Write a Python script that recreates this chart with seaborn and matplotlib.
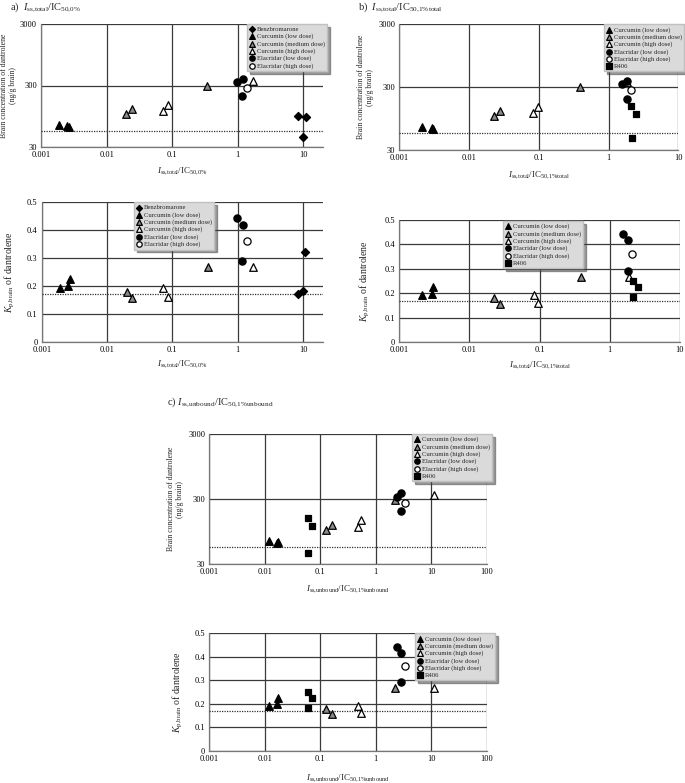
import matplotlib
matplotlib.use("Agg")
import matplotlib.pyplot as plt
import seaborn as sns
import pandas as pd

# ---------------- data ----------------
# Panel a: I_ss,total / IC50,0%
a_benz_x = [8.4, 9.95, 10.9]
a_benz_conc = [94, 43, 92]
a_benz_kp = [0.170, 0.181, 0.321]
a_cur_low_x = [0.0019, 0.0025, 0.0027]
a_cur_low_conc = [69, 66, 64]
a_cur_low_kp = [0.190, 0.199, 0.224]
a_cur_med_x = [0.020, 0.0245, 0.345]
a_cur_med_conc = [102, 124, 300]
a_cur_med_kp = [0.179, 0.157, 0.268]
a_cur_high_x = [0.072, 0.086, 1.70]
a_cur_high_conc = [116, 144, 358]
a_cur_high_kp = [0.193, 0.160, 0.268]
a_ela_low_x = [0.99, 1.20, 1.18]
a_ela_low_conc = [336, 380, 199]
a_ela_low_kp = [0.443, 0.417, 0.289]
a_ela_high_x = [1.37]
a_ela_high_conc = [271]
a_ela_high_kp = [0.361]

# Panel b: I_ss,total / IC50,1%total
b_cur_low_x = [0.0021, 0.0029, 0.0030]
b_cur_low_conc = [69.5, 66, 64]
b_cur_low_kp = [0.193, 0.199, 0.225]
b_cur_med_x = [0.0225, 0.0275, 0.39]
b_cur_med_conc = [104, 124, 298]
b_cur_med_kp = [0.180, 0.158, 0.268]
b_cur_high_x = [0.082, 0.096, 1.85]
b_cur_high_conc = [116, 144, 358]
b_cur_high_kp = [0.193, 0.162, 0.268]
b_ela_low_x = [1.55, 1.82, 1.82]
b_ela_low_conc = [337, 378, 197]
b_ela_low_kp = [0.443, 0.417, 0.292]
b_ela_high_x = [2.1]
b_ela_high_conc = [271]
b_ela_high_kp = [0.361]
b_r406_x = [2.13, 2.48, 2.16]
b_r406_conc = [150, 113, 46]
b_r406_kp = [0.252, 0.226, 0.185]

# Panel c: I_ss,unbound / IC50,1%unbound
c_cur_low_x = [0.012, 0.0163, 0.017]
c_cur_low_conc = [68, 64.5, 66]
c_cur_low_kp = [0.191, 0.198, 0.224]
c_cur_med_x = [0.128, 0.16, 2.25]
c_cur_med_conc = [100, 122, 291]
c_cur_med_kp = [0.178, 0.156, 0.266]
c_cur_high_x = [0.47, 0.55, 11.0]
c_cur_high_conc = [112, 142, 352]
c_cur_high_kp = [0.193, 0.160, 0.269]
c_ela_low_x = [2.45, 2.9, 2.9]
c_ela_low_conc = [327, 378, 195]
c_ela_low_kp = [0.442, 0.418, 0.292]
c_ela_high_x = [3.3]
c_ela_high_conc = [265]
c_ela_high_kp = [0.361]
c_r406_x = [0.059, 0.070, 0.060]
c_r406_conc = [156, 116, 44]
c_r406_kp = [0.252, 0.224, 0.184]

conc_ticks = [30, 300, 3000]
kp_ticks = [0, 0.1, 0.2, 0.3, 0.4, 0.5]
lloq_conc = 55
ref_kp = 0.17

labels = {
    "benz": "Benzbromarone",
    "cur_low": "Curcumin (low dose)",
    "cur_med": "Curcumin (medium dose)",
    "cur_high": "Curcumin (high dose)",
    "ela_low": "Elacridar (low dose)",
    "ela_high": "Elacridar (high dose)",
    "r406": "R406",
}

# ---------------- style ----------------
sns.set_theme(style="white")
plt.rcParams["font.family"] = ["Liberation Serif", "DejaVu Serif"]
plt.rcParams["mathtext.fontset"] = "custom"
plt.rcParams["mathtext.rm"] = "Liberation Serif"
plt.rcParams["mathtext.it"] = "Liberation Serif:italic"
plt.rcParams["mathtext.bf"] = "Liberation Serif:bold"

styles = {
    "benz": dict(marker="D", fc="black", s=17),
    "cur_low": dict(marker="^", fc="black", s=30),
    "cur_med": dict(marker="^", fc="#8a8a8a", s=30),
    "cur_high": dict(marker="^", fc="white", s=30),
    "ela_low": dict(marker="o", fc="black", s=27),
    "ela_high": dict(marker="o", fc="white", s=27),
    "r406": dict(marker="s", fc="black", s=25),
}

W, H = 685, 783
fig = plt.figure(figsize=(W / 100, H / 100), dpi=100)


def add_ax(l, r, t, b):
    return fig.add_axes([l / W, 1 - b / H, (r - l) / W, (b - t) / H])


def draw(ax, series, kind, xmax, xticks, xlabel, ylab_x, xlab_y, leg_xy):
    for key, xs, ys in series:
        df = pd.DataFrame({"x": xs, "y": ys})
        st = styles[key]
        sns.scatterplot(data=df, x="x", y="y", ax=ax, marker=st["marker"],
                        color=st["fc"], edgecolor="black", linewidth=0.9,
                        s=st["s"], label=labels[key], zorder=5)
    ax.set_xscale("log")
    ax.set_xlim(0.001, xmax)
    ax.set_xticks(xticks)
    ax.set_xticklabels([("%g" % v) for v in xticks])
    ax.minorticks_off()
    if kind == "conc":
        ax.set_yscale("log")
        ax.set_ylim(30, 3000)
        ax.set_yticks(conc_ticks)
        ax.set_yticklabels([str(v) for v in conc_ticks])
        ax.minorticks_off()
        ax.axhline(lloq_conc, color="#333333", lw=0.9, ls=(0, (1, 1)), zorder=3)
        ax.set_ylabel("Brain concentration of dantrolene\n(ng/g brain)",
                      fontsize=5.6, linespacing=1.15)
    else:
        ax.set_ylim(0, 0.5)
        ax.set_yticks(kp_ticks)
        ax.set_yticklabels(["0" if v == 0 else "%g" % v for v in kp_ticks])
        ax.axhline(ref_kp, color="#333333", lw=0.9, ls=(0, (1, 1)), zorder=3)
        ax.set_ylabel(r"$\mathit{K}_{\mathrm{p{,}brain}}$ of dantrolene", fontsize=7)
    ax.yaxis.set_label_coords(ylab_x, 0.5)
    ax.set_xlabel(xlabel, fontsize=6.5)
    ax.xaxis.set_label_coords(0.5, xlab_y)
    ax.grid(True, which="major", color="#3a3a3a", lw=0.9)
    ax.set_axisbelow(True)
    for sp in ["top", "right"]:
        ax.spines[sp].set_visible(False)
    for sp in ["left", "bottom"]:
        ax.spines[sp].set_color("#777777")
        ax.spines[sp].set_linewidth(0.9)
    ax.tick_params(axis="both", which="both", length=0, labelsize=6, pad=3,
                   colors="black")
    leg = ax.legend(loc="upper left", bbox_to_anchor=leg_xy, fontsize=4.8,
                    frameon=True, facecolor="#dadada", edgecolor="#c0c0c0",
                    framealpha=1, fancybox=False, shadow=True,
                    handlelength=0.8, handletextpad=0.3, labelspacing=0.2,
                    borderpad=0.35, borderaxespad=0, markerscale=0.75)
    leg.set_zorder(10)


xl_a = r"$\mathit{I}_{\mathrm{ss{,}total}}$/IC$_{\mathrm{50{,}0\%}}$"
xl_b = r"$\mathit{I}_{\mathrm{ss{,}total}}$/IC$_{\mathrm{50{,}1\%total}}$"
xl_c = r"$\mathit{I}_{\mathrm{ss{,}unbound}}$/IC$_{\mathrm{50{,}1\%unbound}}$"

ticks_a = [0.001, 0.01, 0.1, 1, 10]
ticks_c = [0.001, 0.01, 0.1, 1, 10, 100]

# Panel a
ax = add_ax(41, 323, 24, 147)
draw(ax, [("benz", a_benz_x, a_benz_conc), ("cur_low", a_cur_low_x, a_cur_low_conc),
          ("cur_med", a_cur_med_x, a_cur_med_conc), ("cur_high", a_cur_high_x, a_cur_high_conc),
          ("ela_low", a_ela_low_x, a_ela_low_conc), ("ela_high", a_ela_high_x, a_ela_high_conc)],
     "conc", 20, ticks_a, xl_a, -0.085, -0.155, (0.73, 1.0))
ax = add_ax(41.7, 322.7, 201.7, 341.7)
draw(ax, [("benz", a_benz_x, a_benz_kp), ("cur_low", a_cur_low_x, a_cur_low_kp),
          ("cur_med", a_cur_med_x, a_cur_med_kp), ("cur_high", a_cur_high_x, a_cur_high_kp),
          ("ela_low", a_ela_low_x, a_ela_low_kp), ("ela_high", a_ela_high_x, a_ela_high_kp)],
     "kp", 20, ticks_a, xl_a, -0.088, -0.125, (0.328, 0.995))

# Panel b
ax = add_ax(399.3, 678.3, 24.3, 150)
draw(ax, [("cur_low", b_cur_low_x, b_cur_low_conc), ("cur_med", b_cur_med_x, b_cur_med_conc),
          ("cur_high", b_cur_high_x, b_cur_high_conc), ("ela_low", b_ela_low_x, b_ela_low_conc),
          ("ela_high", b_ela_high_x, b_ela_high_conc), ("r406", b_r406_x, b_r406_conc)],
     "conc", 10, ticks_a, xl_b, -0.09, -0.16, (0.734, 1.0))
ax = add_ax(399.3, 680, 220, 342.3)
draw(ax, [("cur_low", b_cur_low_x, b_cur_low_kp), ("cur_med", b_cur_med_x, b_cur_med_kp),
          ("cur_high", b_cur_high_x, b_cur_high_kp), ("ela_low", b_ela_low_x, b_ela_low_kp),
          ("ela_high", b_ela_high_x, b_ela_high_kp), ("r406", b_r406_x, b_r406_kp)],
     "kp", 10, ticks_a, xl_b, -0.098, -0.145, (0.369, 0.992))

# Panel c
ax = add_ax(209.3, 486.7, 434, 564.3)
draw(ax, [("cur_low", c_cur_low_x, c_cur_low_conc), ("cur_med", c_cur_med_x, c_cur_med_conc),
          ("cur_high", c_cur_high_x, c_cur_high_conc), ("ela_low", c_ela_low_x, c_ela_low_conc),
          ("ela_high", c_ela_high_x, c_ela_high_conc), ("r406", c_r406_x, c_r406_conc)],
     "conc", 100, ticks_c, xl_c, -0.091, -0.15, (0.731, 1.0))
ax = add_ax(209.3, 486.7, 633.3, 751)
draw(ax, [("cur_low", c_cur_low_x, c_cur_low_kp), ("cur_med", c_cur_med_x, c_cur_med_kp),
          ("cur_high", c_cur_high_x, c_cur_high_kp), ("ela_low", c_ela_low_x, c_ela_low_kp),
          ("ela_high", c_ela_high_x, c_ela_high_kp), ("r406", c_r406_x, c_r406_kp)],
     "kp", 100, ticks_c, xl_c, -0.088, -0.185, (0.742, 1.0))

# Panel titles
fig.text(10 / W, 1 - 7 / H, "a)  " + xl_a, fontsize=7.5, va="center", ha="left")
fig.text(358 / W, 1 - 7 / H, "b)  " + xl_b, fontsize=7.5, va="center", ha="left")
fig.text(167 / W, 1 - 402 / H, "c) " + xl_c, fontsize=7.5, va="center", ha="left")

fig.savefig("out.png", dpi=100, facecolor="white")
